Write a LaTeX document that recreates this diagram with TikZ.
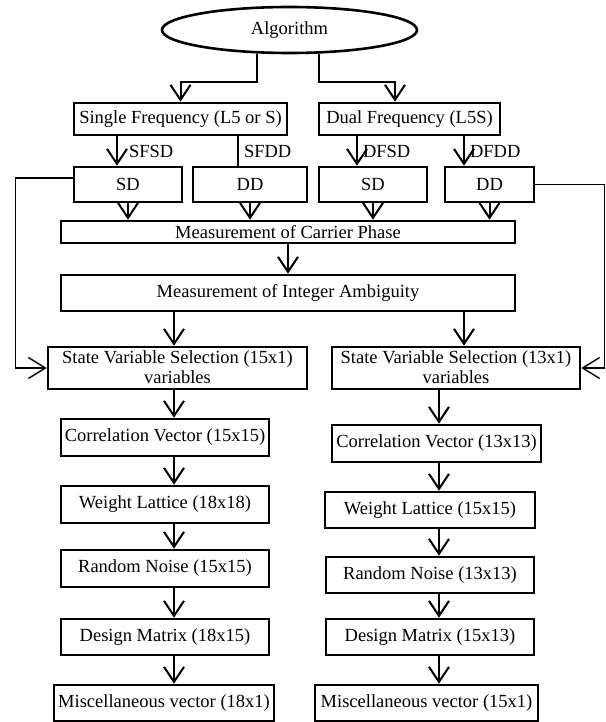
\documentclass[tikz,border=0pt]{standalone}
\usepackage{fontspec}
\setmainfont{Liberation Serif}
\usetikzlibrary{shapes.geometric,arrows.meta}

\begin{document}
\begin{tikzpicture}[x=1pt,y=-1pt,
		font=\fontsize{18.5pt}{19pt}\selectfont,
		vbox/.style={draw,line width=2.6pt,inner sep=0pt,align=center},
		link/.style={line width=2pt},
		arr/.style={link,-{Straight Barb[length=15pt,width=20pt]}},
		fback/.style={line width=1.4pt,-{Straight Barb[length=17pt,width=21pt]}},
		lbl/.style={right,inner sep=5pt}]
		\useasboundingbox (0,0) rectangle (605,722);
		\node[vbox,ellipse,minimum width=255pt,minimum height=46pt] (algo) at (289.5,30) {Algorithm};
		\node[vbox,minimum width=213pt,minimum height=32pt] (sf) at (180.5,119) {Single Frequency (L5 or S)};
		\node[vbox,minimum width=181pt,minimum height=32pt] (df) at (409.5,119) {Dual Frequency (L5S)};
		\node[vbox,minimum width=108pt,minimum height=35pt] (sd1) at (128,184.5) {SD};
		\node[vbox,minimum width=114pt,minimum height=35pt] (dd1) at (250,184.5) {DD};
		\node[vbox,minimum width=108pt,minimum height=35pt] (sd2) at (373,184.5) {SD};
		\node[vbox,minimum width=89pt,minimum height=35pt] (dd2) at (489.5,184.5) {DD};
		\node[vbox,minimum width=454pt,minimum height=22pt] (mcp) at (288,232) {Measurement of Carrier Phase};
		\node[vbox,minimum width=454pt,minimum height=36pt] (mia) at (288,293) {Measurement of Integer Ambiguity};
		% left column (15 states)
		\node[vbox,minimum width=259pt,minimum height=42pt,text depth=2pt] (stl) at (177.5,368) {State Variable Selection (15x1)\\[1pt]variables};
		\node[vbox,minimum width=208pt,minimum height=37pt] (cvl) at (165,437.5) {Correlation Vector (15x15)};
		\node[vbox,minimum width=208pt,minimum height=37pt] (wll) at (165,504.5) {Weight Lattice (18x18)};
		\node[vbox,minimum width=208pt,minimum height=37pt] (rnl) at (165,568.5) {Random Noise (15x15)};
		\node[vbox,minimum width=208pt,minimum height=36pt] (dml) at (165,637) {Design Matrix (18x15)};
		\node[vbox,minimum width=220pt,minimum height=36pt] (mvl) at (164,703) {Miscellaneous vector (18x1)};
		% right column (13 states)
		\node[vbox,minimum width=248pt,minimum height=42pt,text depth=2pt] (str) at (456,368) {State Variable Selection (13x1)\\[1pt]variables};
		\node[vbox,minimum width=209pt,minimum height=37pt] (cvr) at (436.5,443.5) {Correlation Vector (13x13)};
		\node[vbox,minimum width=210pt,minimum height=36pt] (wlr) at (430,510) {Weight Lattice (15x15)};
		\node[vbox,minimum width=208pt,minimum height=36pt] (rnr) at (430,575) {Random Noise (13x13)};
		\node[vbox,minimum width=208pt,minimum height=36pt] (dmr) at (430,637) {Design Matrix (15x13)};
		\node[vbox,minimum width=223pt,minimum height=36pt] (mvr) at (426.5,703) {Miscellaneous vector (15x1)};
		\coordinate (cl) at (174,0);
		\coordinate (cr) at (439,0);
		% frequency split
		\draw[arr] ([xshift=-32.5pt]algo.south) -- ++(0,28) -| (sf.north);
		\draw[arr] ([xshift=29.5pt]algo.south) -- ++(0,28) -| ([xshift=-14.5pt]df.north);
		\draw[arr] ([xshift=-63.5pt]sf.south) -- node[lbl,xshift=6pt] (lsfsd) {SFSD} ([xshift=-11pt]sd1.north);
		\draw[link] ([xshift=57.5pt]sf.south) -- node[lbl] (lsfdd) {SFDD} ([xshift=-12pt]dd1.north);
		\draw[arr] ([xshift=-52.5pt]df.south) -- node[lbl] (ldfsd) {DFSD} ([xshift=-16pt]sd2.north);
		\draw[arr] ([xshift=54.5pt]df.south) -- node[lbl] (ldfdd) {DFDD} ([xshift=-25.5pt]dd2.north);
		\foreach \n in {sd1,dd1,sd2,dd2}
			\draw[arr] (\n.south) -- (\n.south |- mcp.north);
		\draw[arr] (mcp) -- (mia);
		\draw[arr] (mia.south -| cl) -- (stl.north -| cl);
		\draw[arr] ([xshift=176pt]mia.south) -- ([xshift=8pt]str.north);
		% feedback lines
		\draw[fback] ([yshift=6.5pt]sd1.west) -- ++(-57,0) |- (stl.west);
		\draw[fback] (dd2.east) -- ++(69,0) |- (str.east);
		% columns
		\foreach \a/\b in {stl/cvl,cvl/wll,wll/rnl,rnl/dml,dml/mvl}
			\draw[arr] (\a.south -| cl) -- (\b.north -| cl);
		\foreach \a/\b in {str/cvr,cvr/wlr,wlr/rnr,rnr/dmr,dmr/mvr}
			\draw[arr] (\a.south -| cr) -- (\b.north -| cr);
\end{tikzpicture}
\end{document}
